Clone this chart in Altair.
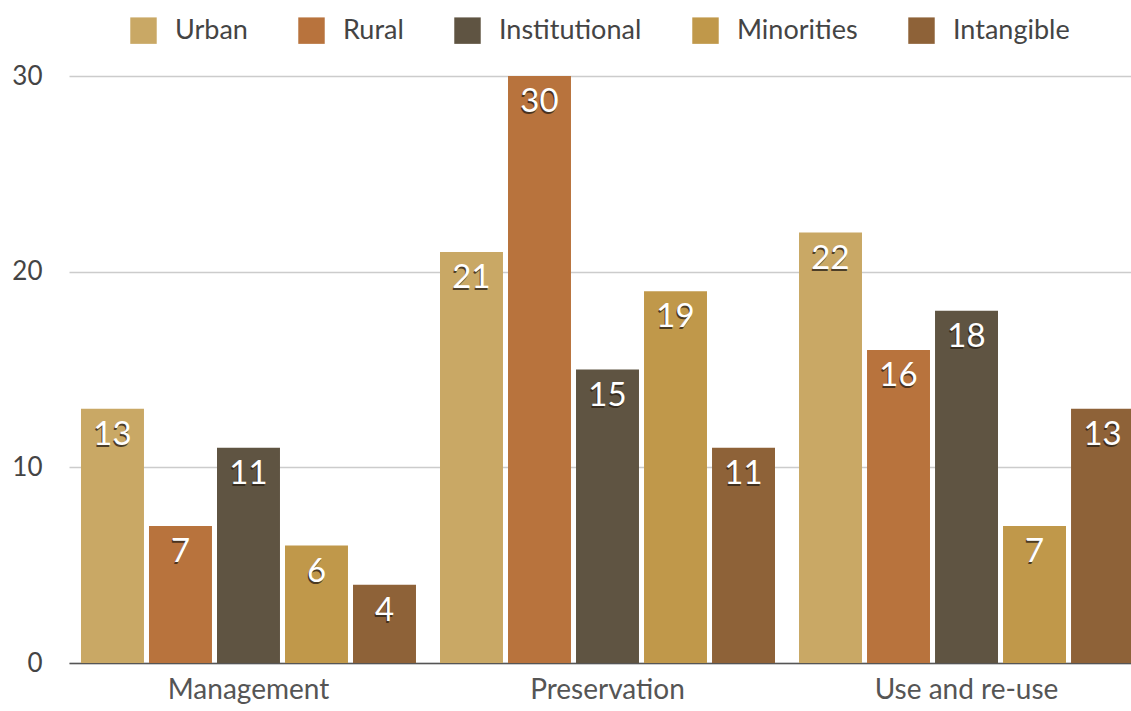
import altair as alt
import pandas as pd

# Heritage themes and their counts per area of study
areas = ["Management", "Preservation", "Use and re-use"]
themes = ["Urban", "Rural", "Institutional", "Minorities", "Intangible"]
management = [13, 7, 11, 6, 4]
preservation = [21, 30, 15, 19, 11]
use_reuse = [22, 16, 18, 7, 13]
palette = ["#C9A865", "#B8733D", "#5F5442", "#C0984A", "#8E6238"]

rows = []
for area, vals in zip(areas, [management, preservation, use_reuse]):
    for theme, v in zip(themes, vals):
        rows.append({"area": area, "theme": theme, "count": v})
df = pd.DataFrame(rows)

FONT = "Lato"

x_enc = alt.X(
    "area:N",
    sort=areas,
    scale=alt.Scale(range=[0, 1077], paddingInner=0.0669, paddingOuter=0.0334),
    axis=alt.Axis(
        title=None, labelAngle=0, labelFontSize=28, labelColor="#555555",
        labelFont=FONT, labelPadding=13, labelLimit=0, ticks=False, grid=False,
        domain=True, domainColor="#555555", domainWidth=1.5,
    ),
)
off_enc = alt.XOffset(
    "theme:N", sort=themes, scale=alt.Scale(paddingInner=0.074, paddingOuter=0)
)
y_enc = alt.Y(
    "count:Q",
    scale=alt.Scale(domain=[0, 30], nice=False),
    axis=alt.Axis(
        title=None, values=[0, 10, 20, 30], labelFontSize=26, labelColor="#444444",
        labelFont=FONT, labelPadding=27, ticks=False, domain=False,
        gridColor="#cccccc", gridWidth=1.5,
    ),
)
color_enc = alt.Color(
    "theme:N",
    sort=themes,
    scale=alt.Scale(domain=themes, range=palette),
    legend=alt.Legend(
        title=None, orient="none", legendX=61, legendY=-59, direction="horizontal",
        symbolType="square", symbolSize=700, symbolStrokeWidth=0, symbolOpacity=1,
        labelFontSize=27, labelFont=FONT, labelColor="#444444", labelOffset=18,
        columnPadding=50,
    ),
)

base = alt.Chart(df).encode(x=x_enc, xOffset=off_enc, y=y_enc)

shadow = base.mark_bar(color="#000000", opacity=0.12, xOffset=2, yOffset=1).encode(
    y2=alt.datum(0)
)
bars = base.mark_bar().encode(color=color_enc)

label_shadow = base.mark_text(
    baseline="top", dy=12, dx=-1, fontSize=33, font=FONT, color="#2e2418", opacity=0.8
).encode(text="count:Q")
labels = base.mark_text(
    baseline="top", dy=10, fontSize=33, font=FONT, color="#ffffff"
).encode(text="count:Q")

chart = (
    alt.layer(shadow, bars, label_shadow, labels)
    .properties(
        width=1062,
        height=587,
        background="#ffffff",
        autosize=alt.AutoSizeParams(type="none"),
        padding={"left": 69, "top": 76, "right": 0, "bottom": 48},
    )
    .configure_view(stroke=None, strokeWidth=0)
)

chart.save("out.html", embed_options={"renderer": "svg", "actions": False})
